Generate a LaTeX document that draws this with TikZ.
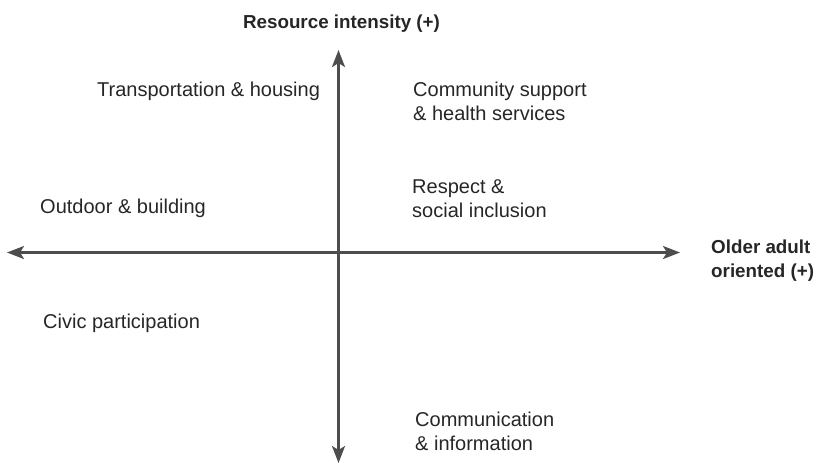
\documentclass[tikz,border=0pt]{standalone}
\usepackage{fontspec}
\setmainfont{Liberation Sans}
\usetikzlibrary{arrows.meta}

\definecolor{axisgray}{HTML}{4D4D4D}
\definecolor{textgray}{HTML}{262626}

\begin{document}
\begin{tikzpicture}[
        x = 1pt, y = -1pt,
        line join=round,
        axisstyle/.style = {line width=2.5pt, axisgray, {Stealth[length=17pt, width=13pt, inset=4pt]}-{Stealth[length=17pt, width=13pt, inset=4pt]}},
        quadlabel/.style = {anchor=base west, inner sep=0pt, align=left, text=textgray, font=\fontsize{20}{23.5}\selectfont},
        axislabel/.style = {inner sep=0pt, align=left, text=textgray, font=\fontsize{18.8}{24}\selectfont\bfseries}
    ]

    \useasboundingbox (0,0) rectangle (816,464);

    \coordinate (W) at (7,252.5);
    \coordinate (E) at (680,252.5);
    \coordinate (N) at (338.5,50);
    \coordinate (S) at (338.5,463);

    % eixos do quadrante
    \draw[axisstyle] (W) -- (E);
    \draw[axisstyle] (S) -- (N);

    \node[axislabel, anchor=base] (resource) at (341.5,28) {Resource intensity (+)};
    \node[axislabel, anchor=base west] (older) at (711,277) {Older adult\\oriented (+)};

    \node[quadlabel] (transport) at (97,96) {Transportation \& housing};
    \node[quadlabel] (community) at (413,120) {Community support\\\& health services};
    \node[quadlabel] (outdoor) at (40,213) {Outdoor \& building};
    \node[quadlabel] (respect) at (412,217) {Respect \&\\social inclusion};
    \node[quadlabel] (civic) at (43,328) {Civic participation};
    \node[quadlabel] (communication) at (415,450) {Communication\\\& information};

\end{tikzpicture}
\end{document}
